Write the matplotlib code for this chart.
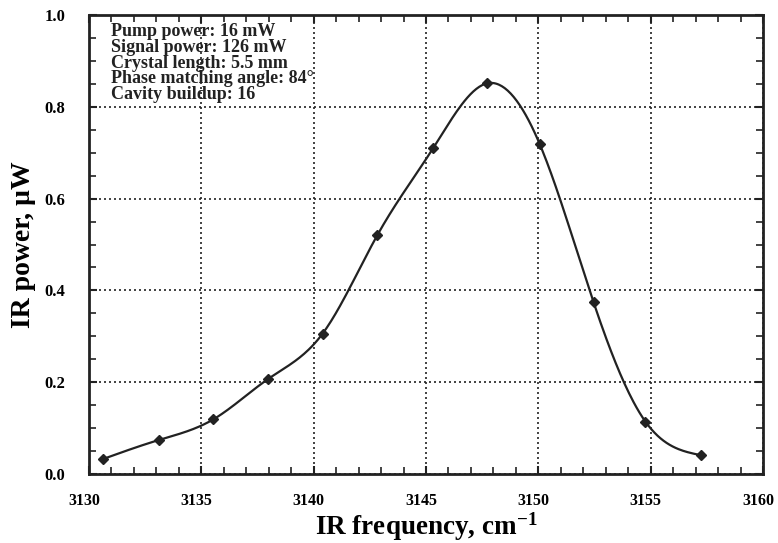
import numpy as np
import matplotlib
matplotlib.use("Agg")
import matplotlib.pyplot as plt
import matplotlib.transforms as mtransforms
from matplotlib.ticker import MultipleLocator

freq = [3130.64, 3133.1, 3135.53, 3137.97, 3140.4, 3142.83, 3145.32, 3147.71, 3150.06, 3152.46, 3154.77, 3157.24]
power = [0.033, 0.074, 0.119, 0.207, 0.306, 0.520, 0.710, 0.851, 0.719, 0.374, 0.114, 0.041]
info_lines = ["Pump power: 16 mW", "Signal power: 126 mW", "Crystal length: 5.5 mm",
              "Phase matching angle: 84°", "Cavity buildup: 16"]


def natural_spline(x, y, xs):
    x = np.asarray(x, float); y = np.asarray(y, float)
    n = len(x)
    h = np.diff(x)
    A = np.zeros((n, n)); b = np.zeros(n)
    A[0, 0] = A[-1, -1] = 1
    for i in range(1, n - 1):
        A[i, i - 1] = h[i - 1]; A[i, i] = 2 * (h[i - 1] + h[i]); A[i, i + 1] = h[i]
        b[i] = 3 * ((y[i + 1] - y[i]) / h[i] - (y[i] - y[i - 1]) / h[i - 1])
    c = np.linalg.solve(A, b)
    out = np.empty_like(xs)
    for k, xv in enumerate(xs):
        i = min(max(np.searchsorted(x, xv) - 1, 0), n - 2)
        d = xv - x[i]
        bi = (y[i + 1] - y[i]) / h[i] - h[i] * (2 * c[i] + c[i + 1]) / 3
        di = (c[i + 1] - c[i]) / (3 * h[i])
        out[k] = y[i] + bi * d + c[i] * d ** 2 + di * d ** 3
    return out


plt.rcParams['font.family'] = ['Liberation Serif', 'DejaVu Serif']
plt.rcParams['mathtext.fontset'] = 'custom'
plt.rcParams['mathtext.rm'] = 'Liberation Serif:bold'
plt.rcParams['mathtext.default'] = 'rm'
fig = plt.figure(figsize=(7.78, 5.43), dpi=100)
ax = fig.add_axes([0.1144, 0.127, 0.9807 - 0.1144, 0.9724 - 0.127])

xs = np.linspace(freq[0], freq[-1], 400)
ax.plot(xs, natural_spline(freq, power, xs), color='#222222', lw=1.6, zorder=3)
ax.plot(freq, power, linestyle='none', marker='D', ms=5.5, color='#222222', zorder=4)

ax.set_xlim(3130, 3160)
ax.set_ylim(0, 1.0)
ax.xaxis.set_major_locator(MultipleLocator(5))
ax.xaxis.set_minor_locator(MultipleLocator(1))
ax.yaxis.set_major_locator(MultipleLocator(0.2))
ax.yaxis.set_minor_locator(MultipleLocator(0.05))
ax.yaxis.set_major_formatter(matplotlib.ticker.FormatStrFormatter('%.1f'))
ax.tick_params(which='both', direction='in', top=True, right=True, color='#222222')
ax.tick_params(which='major', length=6, width=1.5)
ax.tick_params(which='minor', length=5, width=1.2)
ax.tick_params(axis='x', which='major', pad=14, labelsize=11.5)
ax.tick_params(axis='y', which='major', pad=17, labelsize=12)
shift = mtransforms.ScaledTranslation(-5 / 100, 0, fig.dpi_scale_trans)
for lab in ax.get_xticklabels():
    lab.set_fontweight('bold')
    lab.set_transform(lab.get_transform() + shift)
for lab in ax.get_yticklabels():
    lab.set_fontweight('bold')
for s in ax.spines.values():
    s.set_linewidth(2)
    s.set_color('#222222')
ax.grid(True, which='major', linestyle=(0, (1.2, 1.8)), color='#222222', lw=1.2)

ax.set_xlabel('IR frequency, cm$^{-1}$', fontsize=19.5, fontweight='bold', labelpad=1)
ax.set_ylabel('IR power, µW', fontsize=20, fontweight='bold', labelpad=6)

ax.text(0.033, 0.982, "\n".join(info_lines), transform=ax.transAxes, va='top', ha='left',
        fontsize=13, fontweight='bold', linespacing=0.9, color='#222222')

fig.savefig('out.png', dpi=100)
